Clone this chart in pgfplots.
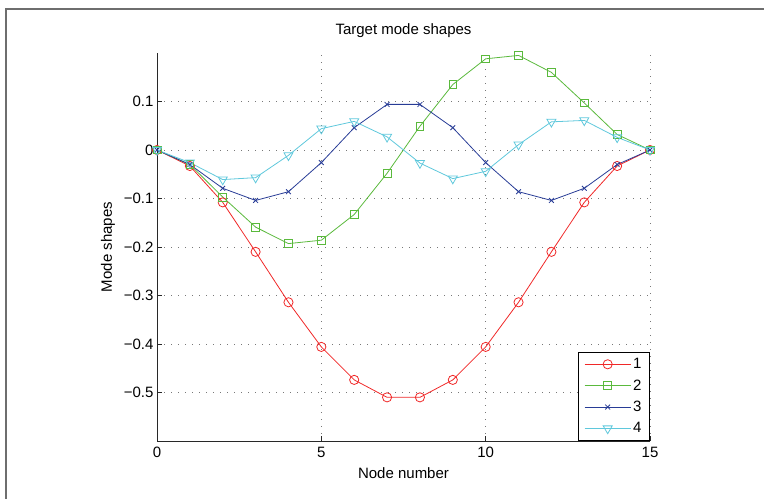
\documentclass[border=0pt]{standalone}
\usepackage{fontspec}
\setmainfont{Liberation Sans}
\usepackage{pgfplots}
\pgfplotsset{compat=1.18}

\definecolor{mred}{RGB}{240,40,40}
\definecolor{mgreen}{RGB}{90,185,60}
\definecolor{mblue}{RGB}{40,60,150}
\definecolor{mcyan}{RGB}{95,200,220}
\definecolor{axisgray}{RGB}{40,40,40}
\definecolor{gridgray}{RGB}{120,120,120}
\definecolor{framegray}{RGB}{110,110,110}

\begin{document}
\begin{tikzpicture}[x=1bp,y=1bp]
\useasboundingbox (0,0) rectangle (764,499);
% figure frame (top and left edges)
\draw[line width=1.5bp, framegray] (6,-1) -- (6,490) -- (765,490);

\begin{axis}[
at={(157bp,58bp)}, anchor=south west,
scale only axis, width=493bp, height=388bp,
xmin=0, xmax=15, ymin=-0.6, ymax=0.2,
axis x line*=bottom, axis y line*=left,
axis line style={line width=0.8bp, axisgray},
tick align=inside, major tick length=5bp,
tick style={line width=0.8bp, axisgray},
xtick={0,5,10,15},
ytick={-0.5,-0.4,-0.3,-0.2,-0.1,0,0.1},
yticklabels={−0.5,−0.4,−0.3,−0.2,−0.1,0,0.1},
xticklabel style={yshift=-3bp},
/pgf/number format/assume math mode=true,
grid=major,
major grid style={gridgray, line width=0.8bp, dash pattern=on 1bp off 6bp},
font=\fontsize{15bp}{18bp}\selectfont,
title={Target mode shapes},
title style={at={(axis description cs:0.5,1.0317)}, anchor=base},
xlabel={Node number},
xlabel style={at={(axis description cs:0.5,-0.096)}, anchor=base},
ylabel={Mode shapes},
ylabel style={at={(axis description cs:-0.0994,0.5)}, anchor=center},
legend style={at={(1,0)}, anchor=south east, draw=black, line width=1.2bp,
  fill=white, font=\fontsize{15bp}{18bp}\selectfont,
  inner xsep=6bp, inner ysep=4bp, row sep=5.5bp,
  /tikz/every even column/.append style={column sep=6bp}},
legend cell align=left,
legend image code/.code={\draw[mark repeat=2,mark phase=2] plot coordinates {(0bp,0bp)(23bp,0bp)(46bp,0bp)};},
]
\addplot[mred, line width=0.8bp, mark=o, mark size=4.6bp, mark options={solid, line width=0.8bp}] coordinates {
(0,0) (1,-0.033) (2,-0.108) (3,-0.21) (4,-0.314) (5,-0.406) (6,-0.474) (7,-0.51)
(8,-0.51) (9,-0.474) (10,-0.406) (11,-0.314) (12,-0.21) (13,-0.108) (14,-0.033) (15,0)
};
\addlegendentry{1}
\addplot[mgreen, line width=0.8bp, mark=square, mark size=3.9bp, mark options={solid, line width=0.8bp}] coordinates {
(0,0) (1,-0.03) (2,-0.097) (3,-0.159) (4,-0.193) (5,-0.186) (6,-0.133) (7,-0.048)
(8,0.049) (9,0.135) (10,0.188) (11,0.195) (12,0.160) (13,0.097) (14,0.032) (15,0)
};
\addlegendentry{2}
\addplot[mblue, line width=0.8bp, mark=x, mark size=3.4bp, mark options={solid, line width=0.8bp}] coordinates {
(0,0) (1,-0.03) (2,-0.079) (3,-0.104) (4,-0.086) (5,-0.026) (6,0.046) (7,0.094)
(8,0.094) (9,0.046) (10,-0.026) (11,-0.086) (12,-0.104) (13,-0.079) (14,-0.03) (15,0)
};
\addlegendentry{3}
\addplot[mcyan, line width=0.8bp, mark=triangle, mark size=5.2bp, mark options={solid, rotate=180, line width=0.8bp}] coordinates {
(0,0) (1,-0.026) (2,-0.061) (3,-0.057) (4,-0.011) (5,0.044) (6,0.059) (7,0.027)
(8,-0.027) (9,-0.059) (10,-0.044) (11,0.011) (12,0.058) (13,0.061) (14,0.026) (15,0)
};
\addlegendentry{4}
\end{axis}
\end{tikzpicture}
\end{document}
